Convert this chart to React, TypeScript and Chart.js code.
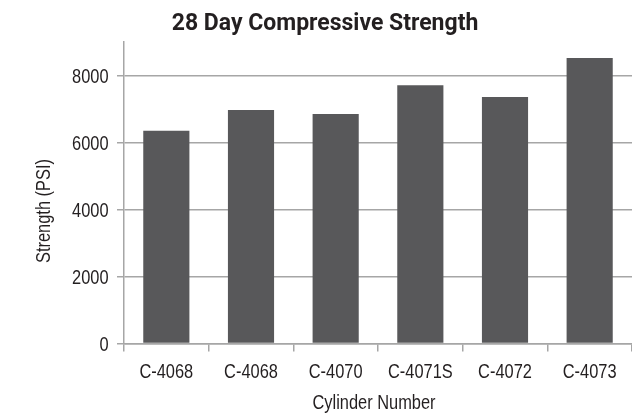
import React, { useEffect, useRef } from "react";
import { Chart, registerables } from "chart.js";

Chart.register(...registerables);

const categories = ["C-4068", "C-4068", "C-4070", "C-4071S", "C-4072", "C-4073"];
const strengthValues = [6350, 6970, 6850, 7710, 7360, 8520];
const yTickValues = [0, 2000, 4000, 6000, 8000];

const chartTitle = "28 Day Compressive Strength";
const xTitle = "Cylinder Number";
const yTitle = "Strength (PSI)";

const TEXT = "#231f20";
const GRID = "#a6a6a6";
const BAR = "#58585a";
const NARROW_FONT = "20px 'Liberation Sans', Arial, sans-serif";
const NARROW = 0.82;

function narrowText(ctx: CanvasRenderingContext2D, text: string, x: number, y: number, align: CanvasTextAlign, rotate = 0) {
  ctx.save();
  ctx.translate(x, y);
  if (rotate) ctx.rotate(rotate);
  ctx.scale(NARROW, 1);
  ctx.font = NARROW_FONT;
  ctx.textAlign = align;
  ctx.textBaseline = "alphabetic";
  ctx.fillStyle = TEXT;
  ctx.fillText(text, 0, 0);
  ctx.restore();
}

const textPlugin = {
  id: "narrowTexts",
  afterDraw(chart: any) {
    const ctx = chart.ctx as CanvasRenderingContext2D;
    const xScale = chart.scales.x;
    const yScale = chart.scales.y;

    // x tick labels (category names), positioned by the category scale
    xScale.ticks.forEach((_t: any, i: number) => {
      const label = String(chart.data.labels[i]);
      narrowText(ctx, label, xScale.getPixelForTick(i), 378, "center");
    });

    // y tick labels, positioned by the linear scale
    yScale.ticks.forEach((t: any) => {
      narrowText(ctx, String(t.value), 108.5, yScale.getPixelForValue(t.value) + 7.2, "right");
    });

    // axis titles
    narrowText(ctx, xTitle, 374, 409, "center");
    narrowText(ctx, yTitle, 50, 211, "center", -Math.PI / 2);

    // chart title
    ctx.save();
    ctx.fillStyle = TEXT;
    ctx.textAlign = "center";
    ctx.textBaseline = "alphabetic";
    ctx.font = "bold 23px Roboto, sans-serif";
    ctx.fillText(chartTitle, 325, 30);
    ctx.restore();
  },
};

export default function App() {
  const canvasRef = useRef<HTMLCanvasElement | null>(null);

  useEffect(() => {
    const canvas = canvasRef.current;
    if (!canvas) return;
    const chart = new Chart(canvas, {
      type: "bar",
      data: {
        labels: categories,
        datasets: [
          {
            data: strengthValues,
            backgroundColor: BAR,
            borderWidth: 0,
            barPercentage: 0.545,
            categoryPercentage: 1,
          },
        ],
      },
      options: {
        responsive: false,
        animation: false,
        devicePixelRatio: 1,
        layout: { padding: { top: 42, left: 0, right: 0, bottom: 0 } },
        plugins: {
          legend: { display: false },
          title: { display: false },
          tooltip: { enabled: false },
        },
        scales: {
          x: {
            offset: true,
            grid: {
              offset: true,
              drawOnChartArea: false,
              drawTicks: true,
              tickLength: 8,
              color: GRID,
              lineWidth: 1.5,
            },
            border: { display: true, color: GRID, width: 1.5 },
            ticks: { display: false, autoSkip: false, maxRotation: 0 },
            afterFit(scale: any) {
              scale.height = 71.5;
            },
          },
          y: {
            min: 0,
            max: 9000,
            grid: {
              color: GRID,
              lineWidth: 1.5,
              drawTicks: true,
              tickLength: 7,
            },
            border: { display: true, color: GRID, width: 1.5 },
            ticks: { display: false },
            afterBuildTicks(scale: any) {
              scale.ticks = yTickValues.map((v) => ({ value: v }));
            },
            afterFit(scale: any) {
              scale.width = 124;
            },
          },
        },
      },
      plugins: [textPlugin],
    });
    return () => chart.destroy();
  }, []);

  return (
    <div style={{ position: "fixed", left: 0, top: 0, width: 632, height: 415, background: "#fff" }}>
      <canvas ref={canvasRef} width={632} height={415} style={{ display: "block" }} />
    </div>
  );
}
